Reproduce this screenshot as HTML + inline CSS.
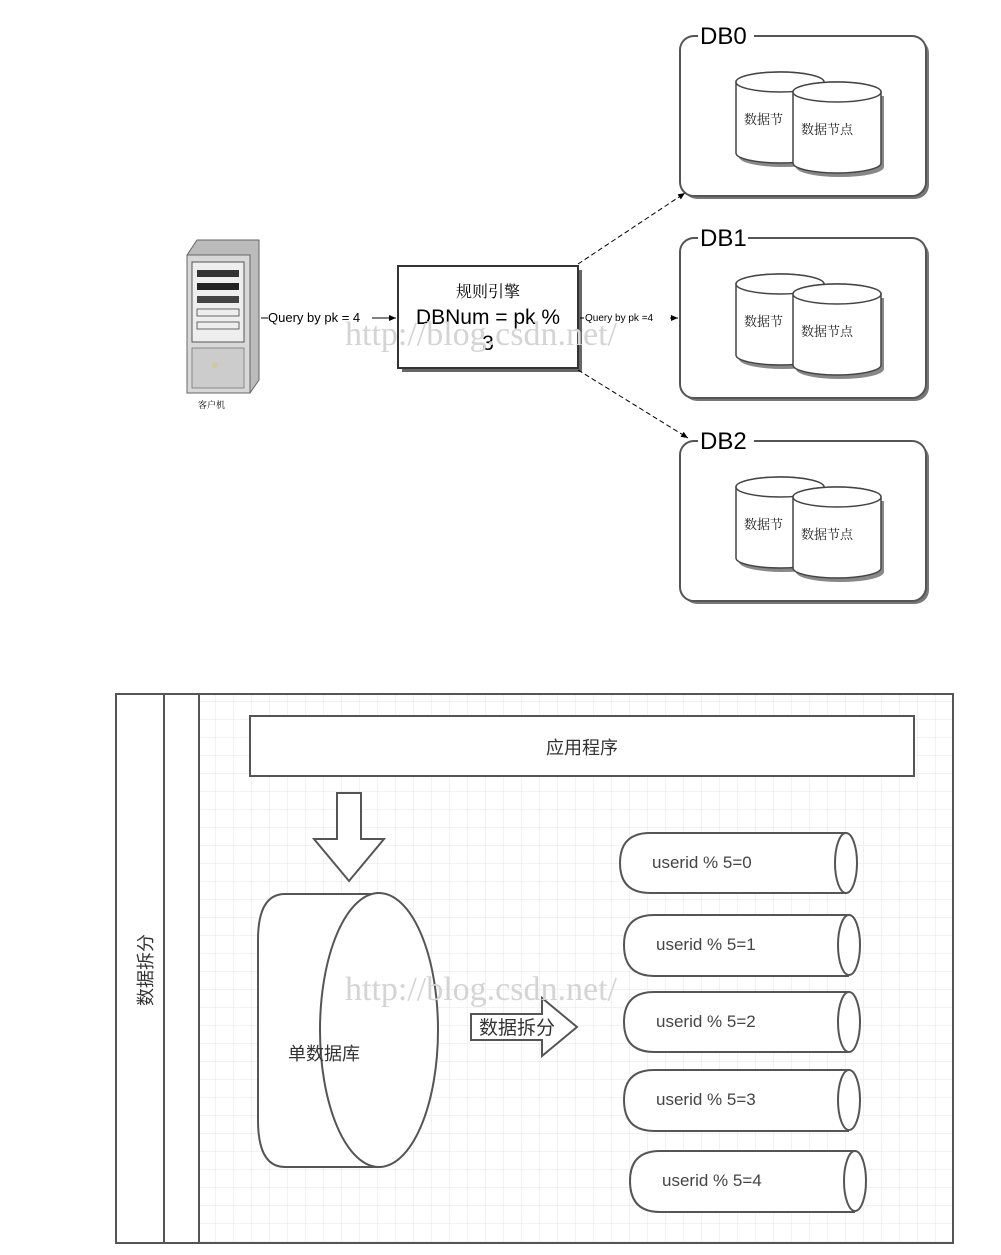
<!DOCTYPE html>
<html><head><meta charset="utf-8"><style>
html,body{margin:0;padding:0;background:#fff}
svg{display:block}
text{font-family:"Liberation Sans","Noto Sans CJK SC",sans-serif}
.cj{font-family:"Noto Serif CJK SC","Noto Sans CJK SC",serif}
</style></head><body>
<svg width="1001" height="1255" viewBox="0 0 1001 1255" xmlns="http://www.w3.org/2000/svg">
<defs>
<pattern id="g" width="18" height="18" patternUnits="userSpaceOnUse">
<path d="M18 0V18H0" fill="none" stroke="#e6e6e6" stroke-width="1"/>
</pattern>
<marker id="ar" markerWidth="8" markerHeight="8" refX="7" refY="4" orient="auto"><path d="M0,1 L7,4 L0,7z" fill="#000"/></marker>
<g id="db">
  <rect x="3" y="3" width="246" height="160" rx="14" fill="#777"/>
  <rect x="0" y="0" width="246" height="160" rx="14" fill="#fff" stroke="#555" stroke-width="2"/>
  <path d="M56 46 V117 A44 10 0 0 0 144 117 V46" fill="#888" transform="translate(3,4)"/>
  <path d="M56 46 V117 A44 10 0 0 0 144 117 V46 A44 10 0 0 0 56 46Z" fill="#fff" stroke="#444" stroke-width="1.5"/>
  <ellipse cx="100" cy="46" rx="44" ry="10" fill="#fff" stroke="#444" stroke-width="1.5"/>
  <text x="64" y="88" font-size="13" class="cj" fill="#222">数据节</text>
  <path d="M113 56 V127 A44 10 0 0 0 201 127 V56" fill="#888" transform="translate(3,4)"/>
  <path d="M113 56 V127 A44 10 0 0 0 201 127 V56 A44 10 0 0 0 113 56Z" fill="#fff" stroke="#444" stroke-width="1.5"/>
  <ellipse cx="157" cy="56" rx="44" ry="10" fill="#fff" stroke="#444" stroke-width="1.5"/>
  <text x="121" y="98" font-size="13" class="cj" fill="#222">数据节点</text>
</g>
</defs>

<g transform="translate(680,36)"><use href="#db"/><rect x="18" y="-14" width="56" height="26" fill="#fff"/><text x="20" y="8" font-size="24">DB0</text></g>
<g transform="translate(680,238)"><use href="#db"/><rect x="18" y="-14" width="50" height="26" fill="#fff"/><text x="20" y="8" font-size="24">DB1</text></g>
<g transform="translate(680,441)"><use href="#db"/><rect x="18" y="-14" width="56" height="26" fill="#fff"/><text x="20" y="8" font-size="24">DB2</text></g>

<polygon points="187,255 197,240 259,240 259,380 250,393 187,393" fill="#bbb" stroke="#666"/>
<rect x="187" y="255" width="63" height="138" fill="#d8d8d8" stroke="#666"/>
<rect x="192" y="262" width="52" height="80" fill="#eee" stroke="#555"/>
<rect x="197" y="270" width="42" height="7" fill="#333"/>
<rect x="197" y="283" width="42" height="7" fill="#222"/>
<rect x="197" y="296" width="42" height="7" fill="#444"/>
<rect x="197" y="309" width="42" height="7" fill="#eee" stroke="#666"/>
<rect x="197" y="322" width="42" height="7" fill="#eee" stroke="#666"/>
<rect x="192" y="348" width="52" height="40" fill="#ccc" stroke="#888"/>
<circle cx="215" cy="365" r="3" fill="#cc9"/>
<text x="198" y="408" font-size="9" class="cj">客户机</text>

<rect x="402" y="270" width="180" height="102" fill="#666"/>
<rect x="398" y="266" width="180" height="102" fill="#fff" stroke="#333" stroke-width="2"/>
<text x="488" y="297" font-size="16" text-anchor="middle" class="cj">规则引擎</text>
<text x="488" y="324" font-size="21" text-anchor="middle">DBNum = pk %</text>
<text x="488" y="350" font-size="21" text-anchor="middle">3</text>

<line x1="261" y1="318" x2="396" y2="318" stroke="#000" marker-end="url(#ar)"/>
<rect x="268" y="309" width="104" height="17" fill="#fff"/>
<text x="268" y="322" font-size="13">Query by pk = 4</text>
<line x1="580" y1="318" x2="678" y2="318" stroke="#000" marker-end="url(#ar)"/>
<rect x="584" y="311" width="86" height="13" fill="#fff"/>
<text x="585" y="321" font-size="10">Query by pk =4</text>
<line x1="578" y1="264" x2="685" y2="193" stroke="#000" stroke-dasharray="5,3" marker-end="url(#ar)"/>
<line x1="578" y1="370" x2="688" y2="438" stroke="#000" stroke-dasharray="5,3" marker-end="url(#ar)"/>

<text x="345" y="345" font-size="34" fill="#d4d4d4" style="font-family:'Liberation Serif',serif">http://blog.csdn.net/</text>

<rect x="199" y="694" width="754" height="549" fill="url(#g)"/>
<rect x="116" y="694" width="837" height="549" fill="none" stroke="#555" stroke-width="2"/>
<line x1="164" y1="694" x2="164" y2="1243" stroke="#555" stroke-width="2"/>
<line x1="199" y1="694" x2="199" y2="1243" stroke="#555" stroke-width="2"/>
<text transform="translate(152,970) rotate(-90)" font-size="18" text-anchor="middle" fill="#333">数据拆分</text>

<rect x="250" y="716" width="664" height="60" fill="#fff" stroke="#555" stroke-width="2"/>
<text x="582" y="754" font-size="18" text-anchor="middle" fill="#333">应用程序</text>

<polygon points="337,793 361,793 361,839 384,839 349,881 314,839 337,839" fill="#fff" stroke="#555" stroke-width="2"/>

<path d="M378 894 H285 Q258 894 258 940 V1120 Q258 1167 285 1167 H378" fill="#fff" stroke="#555" stroke-width="2"/>
<ellipse cx="379" cy="1030" rx="59" ry="137" fill="#fff" stroke="#555" stroke-width="2"/>
<text x="288" y="1060" font-size="18" fill="#333">单数据库</text>

<polygon points="471,1014 542,1014 542,998 577,1027 542,1056 542,1040 471,1040" fill="#fff" stroke="#555" stroke-width="2"/>
<text x="479" y="1034" font-size="19" fill="#333">数据拆分</text>

<text x="345" y="1000" font-size="34" fill="#d4d4d4" style="font-family:'Liberation Serif',serif">http://blog.csdn.net/</text>

<g stroke="#555" stroke-width="2" fill="#fff">
<path d="M846 833 H650 Q620 833 620 863 Q620 893 650 893 H846"/><ellipse cx="846" cy="863" rx="11" ry="30"/>
<path d="M849 915 H654 Q624 915 624 945 Q624 976 654 976 H849"/><ellipse cx="849" cy="945" rx="11" ry="30"/>
<path d="M849 992 H654 Q624 992 624 1022 Q624 1052 654 1052 H849"/><ellipse cx="849" cy="1022" rx="11" ry="30"/>
<path d="M849 1070 H654 Q624 1070 624 1100 Q624 1131 654 1131 H849"/><ellipse cx="849" cy="1100" rx="11" ry="30"/>
<path d="M855 1151 H660 Q630 1151 630 1181 Q630 1212 660 1212 H855"/><ellipse cx="855" cy="1181" rx="11" ry="30"/>
</g>
<g font-size="17" fill="#444">
<text x="652" y="868">userid % 5=0</text>
<text x="656" y="950">userid % 5=1</text>
<text x="656" y="1027">userid % 5=2</text>
<text x="656" y="1105">userid % 5=3</text>
<text x="662" y="1186">userid % 5=4</text>
</g>
</svg>
</body></html>
